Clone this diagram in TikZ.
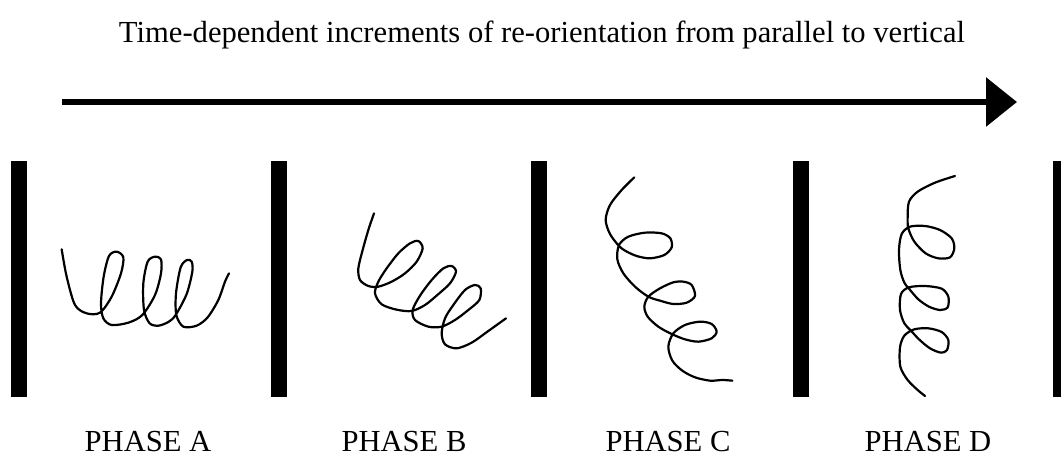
\documentclass[tikz,border=0pt]{standalone}
\usepackage{fontspec}
\setmainfont{Liberation Serif}
\usepackage{tikz}
\usetikzlibrary{arrows.meta}

\begin{document}
\begin{tikzpicture}[x=1pt, y=-1pt,
	wall/.style={fill=black, inner sep=0pt, minimum width=16pt, minimum height=236pt},
	phase/.style={anchor=base, inner sep=0pt, font=\fontsize{30.6}{36}\selectfont},
	coil/.style={line width=2.2pt, line join=round, line cap=round},
	timearrow/.style={line width=6pt, -{Triangle[length=31pt, width=48pt]}}]
		
		\useasboundingbox (0,0) rectangle (1061,455);
		
		\node[phase] (title) at (542,42) {Time-dependent increments of re-orientation from parallel to vertical};
		
		\coordinate (t0) at (62,102);
		\coordinate (t1) at (1017,102);
		\draw[timearrow] (t0) -- (t1);
		
		\foreach \x/\n in {19/1, 279/2, 539/3, 801/4, 1061/5}
			\node[wall] (w\n) at (\x,279) {};
		
		\node[phase] (pa) at (148,451) {PHASE A};
		\node[phase] (pb) at (404,451) {PHASE B};
		\node[phase] (pc) at (668,451) {PHASE C};
		\node[phase] (pd) at (928,451) {PHASE D};
		
		% coil lying flat
		\begin{scope}[shift={(55,240)}, scale=1/3]
		\draw[coil] plot[smooth] coordinates {(20,28) (35,110) (60,195) (95,220) (135,218) (170,170) (198,100) (205,52) (185,35) (162,48) (146,110) (138,190) (145,235) (170,255) (220,248) (262,225) (300,165) (318,100) (318,58) (300,50) (278,65) (265,130) (267,210) (284,250) (310,257) (340,246) (362,225) (395,162) (412,95) (410,65) (396,60) (377,82) (363,160) (364,225) (385,260) (425,257) (458,232) (490,180) (510,125) (522,100)};
		\end{scope}
		
		% tilted
		\begin{scope}[shift={(350,205)}, scale=1/3]
		\draw[coil] plot[smooth] coordinates {(72,25) (55,75) (38,135) (25,190) (30,225) (55,243) (85,245) (125,230) (165,205) (200,170) (218,130) (205,108) (180,115) (145,145) (110,190) (85,230) (75,265) (95,298) (140,314) (185,318) (225,300) (262,270) (300,235) (318,200) (305,183) (280,190) (245,225) (210,272) (188,315) (195,345) (235,365) (275,365) (315,345) (355,315) (388,285) (392,250) (375,240) (345,255) (310,300) (285,340) (275,385) (285,418) (320,430) (365,413) (415,378) (468,340)};
		\end{scope}
		
		% steeper
		\begin{scope}[shift={(595,170)}, scale=1/3]
		\draw[coil] plot[smooth] coordinates {(118,22) (80,60) (45,105) (32,150) (45,192) (72,228) (92,243) (125,258) (165,265) (208,255) (230,232) (226,205) (200,190) (150,188) (100,200) (72,225) (67,268) (85,310) (120,350) (160,380) (195,392) (235,402) (275,398) (300,378) (290,345) (265,335) (235,337) (195,355) (160,380) (148,410) (158,440) (190,470) (230,492) (270,508) (310,515) (350,505) (365,485) (350,462) (315,455) (270,465) (235,490) (220,530) (232,572) (262,602) (300,622) (345,632) (382,630) (412,632)};
		\end{scope}
		
		% upright
		\begin{scope}[shift={(885,170)}, scale=1/3]
		\draw[coil] plot[smooth] coordinates {(210,18) (150,38) (98,65) (72,95) (68,140) (70,175) (88,215) (122,250) (160,265) (195,262) (208,235) (200,205) (165,180) (120,168) (75,170) (50,192) (42,240) (46,300) (58,338) (72,356) (100,388) (132,410) (165,420) (188,412) (190,380) (170,356) (120,348) (72,352) (48,372) (45,420) (58,460) (78,482) (102,508) (135,535) (168,548) (186,540) (190,510) (170,486) (130,475) (88,478) (58,497) (45,532) (46,590) (68,630) (98,660) (120,678)};
		\end{scope}
		
\end{tikzpicture}
\end{document}
